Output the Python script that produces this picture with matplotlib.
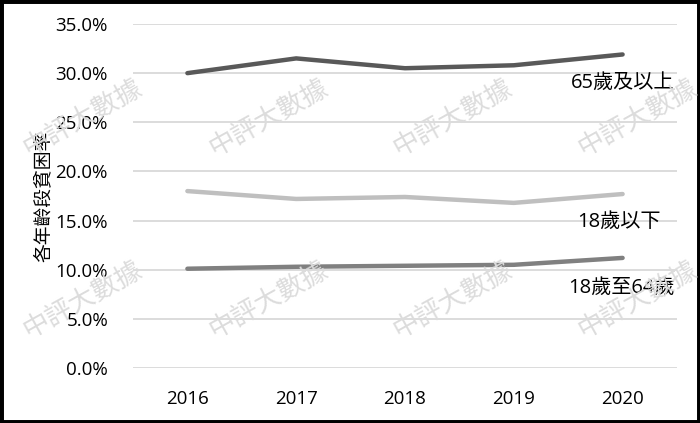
import matplotlib.pyplot as plt
from matplotlib.ticker import PercentFormatter

plt.rcParams['font.family'] = ['Open Sans', 'Noto Sans CJK TC', 'DejaVu Sans']

years = ["2016", "2017", "2018", "2019", "2020"]
senior = [30.0, 31.5, 30.5, 30.8, 31.9]
child = [18.0, 17.2, 17.4, 16.8, 17.7]
adult = [10.1, 10.3, 10.4, 10.5, 11.2]
series_names = ["65歲及以上", "18歲以下", "18歲至64歲"]

fig = plt.figure(figsize=(7, 4.23), dpi=100)
ax = fig.add_axes([133/700, 55/423, 544/700, 344/423])

x = range(len(years))
ax.plot(x, senior, color="#595959", lw=3.2, solid_capstyle="round", zorder=3)
ax.plot(x, child, color="#bfbfbf", lw=3.2, solid_capstyle="round", zorder=3)
ax.plot(x, adult, color="#808080", lw=3.2, solid_capstyle="round", zorder=3)

ax.set_xlim(-0.5, 4.5)
ax.set_ylim(0, 35)
ax.set_yticks(range(0, 36, 5))
ax.yaxis.set_major_formatter(PercentFormatter(decimals=1))
ax.set_xticks(list(x))
ax.set_xticklabels(years)
ax.grid(axis="y", color="#d9d9d9", lw=1.3)
ax.set_axisbelow(True)
for s in ax.spines.values():
    s.set_visible(False)
ax.tick_params(length=0, labelsize=13.5, colors="black", pad=16)
ax.tick_params(axis="y", pad=18)
ax.set_ylabel("各年齡段貧困率", fontsize=13.5)
ax.yaxis.set_label_coords(-0.148, 0.5)

# series labels
ax.text(4.48, 29.0, series_names[0], ha="right", va="center", fontsize=14.5)
ax.text(4.35, 14.9, series_names[1], ha="right", va="center", fontsize=14.5)
ax.text(4.48, 8.2, series_names[2], ha="right", va="center", fontsize=14.5)

# watermarks
for wy in (118/423, 300/423):
    for wx in (82, 268, 452, 637):
        fig.text(wx/700, 1 - wy, "中評大數據", ha="center", va="center",
                 rotation=29, fontsize=19, color="#dcdcdc", zorder=5,
                 family=["Noto Sans CJK TC"], fontweight="light")

# outer frame
fig.patches.append(plt.Rectangle((0, 0), 1, 1, transform=fig.transFigure,
                                 fill=False, edgecolor="black", lw=5))

fig.savefig("out.png", dpi=100)
